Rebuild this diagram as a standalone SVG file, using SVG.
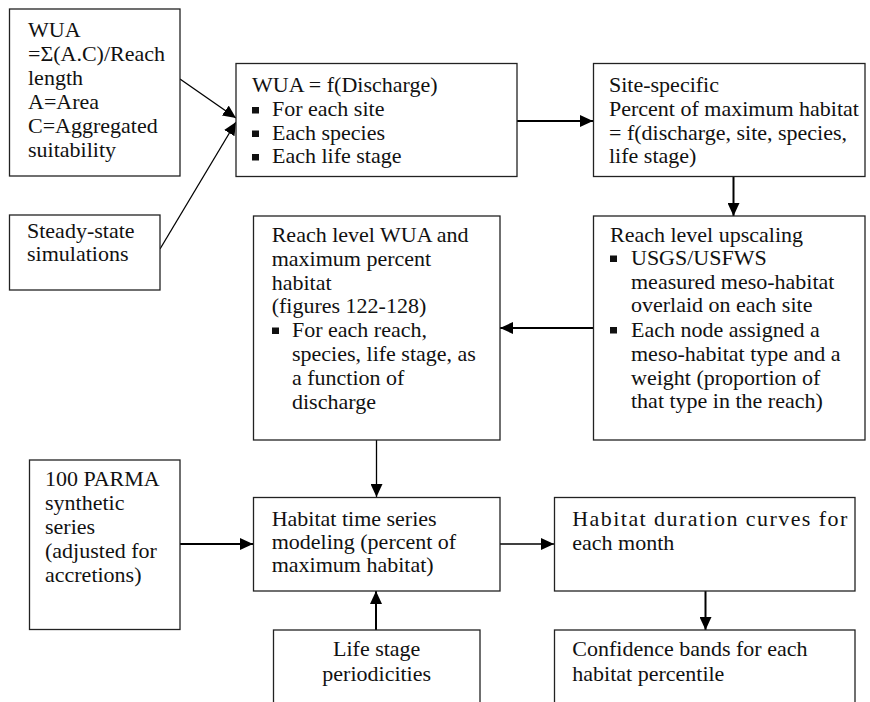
<svg xmlns="http://www.w3.org/2000/svg" width="870" height="702" viewBox="0 0 870 702">
<style>
.box{fill:#fff;stroke:#222;stroke-width:1.3}
.t{font-family:"Liberation Serif","Times New Roman",serif;font-size:22px;fill:#111}
.c{text-anchor:middle}
.bul{fill:#111}
.ln{fill:none;stroke:#000;stroke-width:1.3}
.thick{stroke-width:2}
</style>
<defs>
<marker id="ah" markerUnits="userSpaceOnUse" markerWidth="14" markerHeight="12" refX="13" refY="6" orient="auto">
<path d="M0,0 L13,6 L0,12 z" fill="#000"/>
</marker>
</defs>
<rect width="870" height="702" fill="#fff"/>
<g id="connectors">
<line class="ln" x1="180" y1="79" x2="236" y2="118" marker-end="url(#ah)"/>
<line class="ln" x1="160" y1="249" x2="236" y2="122" marker-end="url(#ah)"/>
<line class="ln thick" x1="517" y1="121" x2="593" y2="121" marker-end="url(#ah)"/>
<line class="ln thick" x1="733.5" y1="177" x2="733.5" y2="216" marker-end="url(#ah)"/>
<line class="ln thick" x1="593" y1="328" x2="500" y2="328" marker-end="url(#ah)"/>
<line class="ln" x1="376.5" y1="440" x2="376.5" y2="497" marker-end="url(#ah)"/>
<line class="ln thick" x1="180" y1="544" x2="253" y2="544" marker-end="url(#ah)"/>
<line class="ln" x1="500" y1="544" x2="554" y2="544" marker-end="url(#ah)"/>
<line class="ln thick" x1="705.5" y1="591" x2="705.5" y2="630" marker-end="url(#ah)"/>
<line class="ln thick" x1="376" y1="630" x2="376" y2="591" marker-end="url(#ah)"/>
</g>
<g id="wua-def">
<rect class="box" x="9.5" y="9" width="170.5" height="167"/>
<text class="t" x="28" y="36.5">WUA</text>
<text class="t" x="28" y="61">=Σ(A.C)/Reach</text>
<text class="t" x="28" y="85">length</text>
<text class="t" x="28" y="109">A=Area</text>
<text class="t" x="28" y="133">C=Aggregated</text>
<text class="t" x="28" y="157">suitability</text>
</g>
<g id="steady-state">
<rect class="box" x="9.5" y="215" width="150.5" height="75"/>
<text class="t" x="27" y="238">Steady-state</text>
<text class="t" x="27" y="261">simulations</text>
</g>
<g id="wua-discharge">
<rect class="box" x="236" y="63.5" width="281" height="113"/>
<text class="t" x="252" y="92">WUA = f(Discharge)</text>
<rect class="bul" x="252" y="107" width="7" height="6.5"/>
<text class="t" x="272" y="116">For each site</text>
<rect class="bul" x="252" y="130.5" width="7" height="6.5"/>
<text class="t" x="272" y="139.5">Each  species</text>
<rect class="bul" x="252" y="154" width="7" height="6.5"/>
<text class="t" x="272" y="163">Each life stage</text>
</g>
<g id="site-specific">
<rect class="box" x="593.5" y="63.5" width="271.5" height="113"/>
<text class="t" x="609" y="92">Site-specific</text>
<text class="t" x="609" y="115.7">Percent of maximum habitat</text>
<text class="t" x="609" y="139.5">= f(discharge, site, species,</text>
<text class="t" x="609" y="163">life stage)</text>
</g>
<g id="reach-upscaling">
<rect class="box" x="593.5" y="216" width="271.5" height="224"/>
<text class="t" x="610" y="241.7">Reach level upscaling</text>
<rect class="bul" x="610" y="255.5" width="7" height="6.5"/>
<text class="t" x="631" y="265">USGS/USFWS</text>
<text class="t" x="631" y="288.7">measured meso-habitat</text>
<text class="t" x="631" y="312.4">overlaid on each site</text>
<rect class="bul" x="610" y="327" width="7" height="6.5"/>
<text class="t" x="631" y="336.5">Each node assigned a</text>
<text class="t" x="631" y="360.6">meso-habitat type and a</text>
<text class="t" x="631" y="384.6">weight (proportion of</text>
<text class="t" x="631" y="408.3">that type in the reach)</text>
</g>
<g id="reach-wua">
<rect class="box" x="253.5" y="216" width="246.5" height="224"/>
<text class="t" x="271.7" y="241.7">Reach level WUA and</text>
<text class="t" x="271.7" y="265.8">maximum percent</text>
<text class="t" x="271.7" y="289.7">habitat</text>
<text class="t" x="271.7" y="313.3">(figures 122-128)</text>
<rect class="bul" x="272" y="327.5" width="7" height="6.5"/>
<text class="t" x="292" y="337">For each reach,</text>
<text class="t" x="292" y="361.3">species, life stage, as</text>
<text class="t" x="292" y="385">a function of</text>
<text class="t" x="292" y="409">discharge</text>
</g>
<g id="parma">
<rect class="box" x="29.5" y="460" width="150.5" height="169.5"/>
<text class="t" x="45" y="486">100 PARMA</text>
<text class="t" x="45" y="510">synthetic</text>
<text class="t" x="45" y="534">series</text>
<text class="t" x="45" y="558">(adjusted for</text>
<text class="t" x="45" y="582">accretions)</text>
</g>
<g id="habitat-time-series">
<rect class="box" x="253.5" y="497.5" width="246.5" height="93.5"/>
<text class="t" x="271.7" y="526">Habitat time series</text>
<text class="t" x="271.7" y="549">modeling (percent of</text>
<text class="t" x="271.7" y="572">maximum habitat)</text>
</g>
<g id="habitat-duration">
<rect class="box" x="554.5" y="497.5" width="300.5" height="93.5"/>
<text class="t" x="572.3" y="526" textLength="275" lengthAdjust="spacing">Habitat duration curves for</text>
<text class="t" x="572.3" y="549.5">each month</text>
</g>
<g id="life-stage">
<rect class="box" x="273.5" y="630" width="206.5" height="90"/>
<text class="t c" x="376.7" y="656">Life stage</text>
<text class="t c" x="376.7" y="680.5">periodicities</text>
</g>
<g id="confidence-bands">
<rect class="box" x="554.5" y="630" width="300.5" height="90"/>
<text class="t" x="572.3" y="656">Confidence bands for each</text>
<text class="t" x="572.3" y="680.5">habitat percentile</text>
</g>
</svg>
